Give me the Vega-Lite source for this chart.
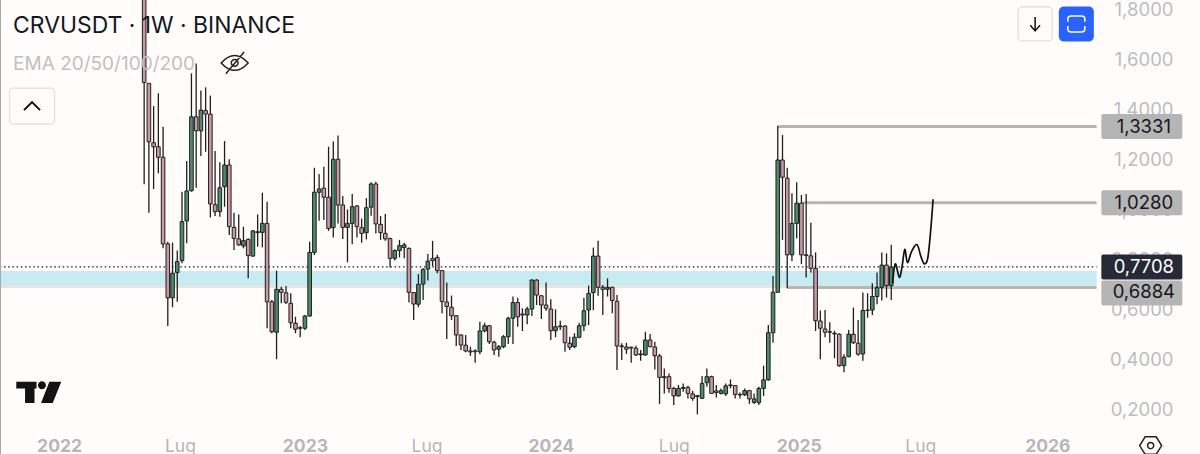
{
"$schema":"https://vega.github.io/schema/vega-lite/v6.json",
"width":1200,"height":454,"autosize":"none","padding":0,"background":"#fffcfb",
"config":{"view":{"stroke":null},"text":{"font":"Inter"}},
"datasets":{
"candles":[
{"date":"2022-05-09","open":2.2,"high":2.3,"low":1.102,"close":1.509},
{"date":"2022-05-16","open":1.506,"high":1.506,"low":0.988,"close":1.272},
{"date":"2022-05-23","open":1.268,"high":1.415,"low":1.083,"close":1.252},
{"date":"2022-05-30","open":1.252,"high":1.466,"low":1.146,"close":1.21},
{"date":"2022-06-06","open":1.21,"high":1.332,"low":0.845,"close":0.863},
{"date":"2022-06-13","open":0.863,"high":0.872,"low":0.534,"close":0.647},
{"date":"2022-06-20","open":0.647,"high":0.868,"low":0.609,"close":0.745},
{"date":"2022-06-27","open":0.748,"high":0.836,"low":0.631,"close":0.792},
{"date":"2022-07-04","open":0.796,"high":1.072,"low":0.785,"close":0.952},
{"date":"2022-07-11","open":0.955,"high":1.195,"low":0.865,"close":1.075},
{"date":"2022-07-18","open":1.076,"high":1.546,"low":1.072,"close":1.372},
{"date":"2022-07-25","open":1.372,"high":1.586,"low":1.088,"close":1.316},
{"date":"2022-08-01","open":1.316,"high":1.477,"low":1.215,"close":1.399},
{"date":"2022-08-08","open":1.397,"high":1.49,"low":1.232,"close":1.383},
{"date":"2022-08-15","open":1.383,"high":1.457,"low":0.969,"close":1.023},
{"date":"2022-08-22","open":1.02,"high":1.235,"low":0.975,"close":0.992},
{"date":"2022-08-29","open":0.992,"high":1.19,"low":0.972,"close":1.088},
{"date":"2022-09-05","open":1.092,"high":1.275,"low":1.012,"close":1.179},
{"date":"2022-09-12","open":1.179,"high":1.202,"low":0.899,"close":0.932},
{"date":"2022-09-19","open":0.929,"high":0.988,"low":0.838,"close":0.885},
{"date":"2022-09-26","open":0.883,"high":0.981,"low":0.855,"close":0.859},
{"date":"2022-10-03","open":0.855,"high":0.932,"low":0.845,"close":0.876},
{"date":"2022-10-10","open":0.881,"high":0.885,"low":0.725,"close":0.816},
{"date":"2022-10-17","open":0.814,"high":0.919,"low":0.812,"close":0.915},
{"date":"2022-10-24","open":0.912,"high":0.981,"low":0.852,"close":0.908},
{"date":"2022-10-31","open":0.909,"high":1.068,"low":0.849,"close":0.945},
{"date":"2022-11-07","open":0.945,"high":1.032,"low":0.525,"close":0.631},
{"date":"2022-11-14","open":0.631,"high":0.638,"low":0.505,"close":0.511},
{"date":"2022-11-21","open":0.509,"high":0.756,"low":0.401,"close":0.681},
{"date":"2022-11-28","open":0.681,"high":0.691,"low":0.625,"close":0.669},
{"date":"2022-12-05","open":0.667,"high":0.694,"low":0.622,"close":0.629},
{"date":"2022-12-12","open":0.625,"high":0.665,"low":0.525,"close":0.547},
{"date":"2022-12-19","open":0.545,"high":0.571,"low":0.505,"close":0.521},
{"date":"2022-12-26","open":0.527,"high":0.534,"low":0.489,"close":0.525},
{"date":"2023-01-02","open":0.525,"high":0.578,"low":0.518,"close":0.574},
{"date":"2023-01-09","open":0.574,"high":0.872,"low":0.571,"close":0.829},
{"date":"2023-01-16","open":0.829,"high":1.168,"low":0.818,"close":1.07},
{"date":"2023-01-23","open":1.07,"high":1.143,"low":0.956,"close":1.083},
{"date":"2023-01-30","open":1.086,"high":1.172,"low":0.959,"close":1.05},
{"date":"2023-02-06","open":1.05,"high":1.252,"low":0.915,"close":0.925},
{"date":"2023-02-13","open":0.928,"high":1.273,"low":0.889,"close":1.202},
{"date":"2023-02-20","open":1.202,"high":1.297,"low":0.945,"close":1.019},
{"date":"2023-02-27","open":1.019,"high":1.055,"low":0.883,"close":0.929},
{"date":"2023-03-06","open":0.929,"high":1.001,"low":0.789,"close":0.945},
{"date":"2023-03-13","open":0.945,"high":1.063,"low":0.861,"close":1.012},
{"date":"2023-03-20","open":1.015,"high":1.019,"low":0.889,"close":0.932},
{"date":"2023-03-27","open":0.928,"high":0.965,"low":0.868,"close":0.905},
{"date":"2023-04-03","open":0.908,"high":1.046,"low":0.881,"close":1.008},
{"date":"2023-04-10","open":1.01,"high":1.11,"low":0.976,"close":1.103},
{"date":"2023-04-17","open":1.103,"high":1.112,"low":0.905,"close":0.943},
{"date":"2023-04-24","open":0.941,"high":0.975,"low":0.879,"close":0.908},
{"date":"2023-05-01","open":0.905,"high":0.983,"low":0.876,"close":0.883},
{"date":"2023-05-08","open":0.884,"high":0.889,"low":0.768,"close":0.805},
{"date":"2023-05-15","open":0.805,"high":0.841,"low":0.796,"close":0.836},
{"date":"2023-05-22","open":0.836,"high":0.879,"low":0.809,"close":0.856},
{"date":"2023-05-29","open":0.848,"high":0.868,"low":0.805,"close":0.859},
{"date":"2023-06-05","open":0.845,"high":0.848,"low":0.628,"close":0.669},
{"date":"2023-06-12","open":0.668,"high":0.67,"low":0.558,"close":0.622},
{"date":"2023-06-19","open":0.621,"high":0.742,"low":0.609,"close":0.701},
{"date":"2023-06-26","open":0.702,"high":0.765,"low":0.638,"close":0.761},
{"date":"2023-07-03","open":0.762,"high":0.822,"low":0.716,"close":0.794},
{"date":"2023-07-10","open":0.804,"high":0.875,"low":0.774,"close":0.796},
{"date":"2023-07-17","open":0.808,"high":0.819,"low":0.745,"close":0.756},
{"date":"2023-07-24","open":0.756,"high":0.758,"low":0.585,"close":0.632},
{"date":"2023-07-31","open":0.63,"high":0.708,"low":0.482,"close":0.612},
{"date":"2023-08-07","open":0.609,"high":0.656,"low":0.558,"close":0.575},
{"date":"2023-08-14","open":0.575,"high":0.578,"low":0.454,"close":0.498},
{"date":"2023-08-21","open":0.498,"high":0.501,"low":0.438,"close":0.458},
{"date":"2023-08-28","open":0.457,"high":0.498,"low":0.429,"close":0.434},
{"date":"2023-09-04","open":0.434,"high":0.451,"low":0.414,"close":0.43},
{"date":"2023-09-11","open":0.434,"high":0.441,"low":0.387,"close":0.431},
{"date":"2023-09-18","open":0.431,"high":0.551,"low":0.421,"close":0.514},
{"date":"2023-09-25","open":0.514,"high":0.547,"low":0.509,"close":0.535},
{"date":"2023-10-02","open":0.535,"high":0.538,"low":0.462,"close":0.471},
{"date":"2023-10-09","open":0.469,"high":0.475,"low":0.418,"close":0.438},
{"date":"2023-10-16","open":0.441,"high":0.458,"low":0.411,"close":0.451},
{"date":"2023-10-23","open":0.451,"high":0.498,"low":0.445,"close":0.491},
{"date":"2023-10-30","open":0.491,"high":0.571,"low":0.462,"close":0.565},
{"date":"2023-11-06","open":0.565,"high":0.652,"low":0.462,"close":0.628},
{"date":"2023-11-13","open":0.628,"high":0.647,"low":0.531,"close":0.571},
{"date":"2023-11-20","open":0.582,"high":0.605,"low":0.514,"close":0.578},
{"date":"2023-11-27","open":0.578,"high":0.611,"low":0.541,"close":0.602},
{"date":"2023-12-04","open":0.602,"high":0.721,"low":0.574,"close":0.718},
{"date":"2023-12-11","open":0.718,"high":0.721,"low":0.618,"close":0.658},
{"date":"2023-12-18","open":0.655,"high":0.658,"low":0.562,"close":0.618},
{"date":"2023-12-25","open":0.618,"high":0.708,"low":0.595,"close":0.605},
{"date":"2024-01-01","open":0.602,"high":0.641,"low":0.478,"close":0.515},
{"date":"2024-01-08","open":0.515,"high":0.601,"low":0.489,"close":0.531},
{"date":"2024-01-15","open":0.534,"high":0.555,"low":0.518,"close":0.531},
{"date":"2024-01-22","open":0.534,"high":0.537,"low":0.431,"close":0.467},
{"date":"2024-01-29","open":0.465,"high":0.491,"low":0.438,"close":0.449},
{"date":"2024-02-05","open":0.451,"high":0.505,"low":0.445,"close":0.489},
{"date":"2024-02-12","open":0.489,"high":0.547,"low":0.485,"close":0.535},
{"date":"2024-02-19","open":0.535,"high":0.647,"low":0.514,"close":0.595},
{"date":"2024-02-26","open":0.598,"high":0.696,"low":0.538,"close":0.665},
{"date":"2024-03-04","open":0.668,"high":0.848,"low":0.598,"close":0.814},
{"date":"2024-03-11","open":0.814,"high":0.876,"low":0.655,"close":0.689},
{"date":"2024-03-18","open":0.689,"high":0.698,"low":0.578,"close":0.681},
{"date":"2024-03-25","open":0.681,"high":0.725,"low":0.652,"close":0.689},
{"date":"2024-04-01","open":0.689,"high":0.691,"low":0.585,"close":0.636},
{"date":"2024-04-08","open":0.633,"high":0.658,"low":0.358,"close":0.454},
{"date":"2024-04-15","open":0.454,"high":0.465,"low":0.398,"close":0.451},
{"date":"2024-04-22","open":0.45,"high":0.467,"low":0.422,"close":0.441},
{"date":"2024-04-29","open":0.449,"high":0.451,"low":0.387,"close":0.446},
{"date":"2024-05-06","open":0.445,"high":0.455,"low":0.414,"close":0.418},
{"date":"2024-05-13","open":0.419,"high":0.438,"low":0.395,"close":0.422},
{"date":"2024-05-20","open":0.418,"high":0.511,"low":0.415,"close":0.478},
{"date":"2024-05-27","open":0.478,"high":0.502,"low":0.449,"close":0.451},
{"date":"2024-06-03","open":0.45,"high":0.471,"low":0.36,"close":0.415},
{"date":"2024-06-10","open":0.414,"high":0.422,"low":0.222,"close":0.328},
{"date":"2024-06-17","open":0.331,"high":0.364,"low":0.264,"close":0.327},
{"date":"2024-06-24","open":0.331,"high":0.344,"low":0.267,"close":0.284},
{"date":"2024-07-01","open":0.284,"high":0.291,"low":0.218,"close":0.254},
{"date":"2024-07-08","open":0.254,"high":0.298,"low":0.251,"close":0.284},
{"date":"2024-07-15","open":0.288,"high":0.304,"low":0.271,"close":0.284},
{"date":"2024-07-22","open":0.288,"high":0.295,"low":0.244,"close":0.264},
{"date":"2024-07-29","open":0.262,"high":0.275,"low":0.235,"close":0.244},
{"date":"2024-08-05","open":0.255,"high":0.258,"low":0.18,"close":0.251},
{"date":"2024-08-12","open":0.244,"high":0.334,"low":0.242,"close":0.304},
{"date":"2024-08-19","open":0.307,"high":0.364,"low":0.291,"close":0.331},
{"date":"2024-08-26","open":0.331,"high":0.335,"low":0.262,"close":0.264},
{"date":"2024-09-02","open":0.274,"high":0.298,"low":0.248,"close":0.268},
{"date":"2024-09-09","open":0.264,"high":0.284,"low":0.26,"close":0.275},
{"date":"2024-09-16","open":0.262,"high":0.304,"low":0.254,"close":0.294},
{"date":"2024-09-23","open":0.298,"high":0.32,"low":0.284,"close":0.295},
{"date":"2024-09-30","open":0.295,"high":0.298,"low":0.244,"close":0.26},
{"date":"2024-10-07","open":0.26,"high":0.268,"low":0.244,"close":0.258},
{"date":"2024-10-14","open":0.258,"high":0.284,"low":0.254,"close":0.275},
{"date":"2024-10-21","open":0.275,"high":0.278,"low":0.222,"close":0.242},
{"date":"2024-10-28","open":0.228,"high":0.264,"low":0.222,"close":0.242},
{"date":"2024-11-04","open":0.227,"high":0.291,"low":0.218,"close":0.284},
{"date":"2024-11-11","open":0.284,"high":0.375,"low":0.254,"close":0.318},
{"date":"2024-11-18","open":0.318,"high":0.538,"low":0.315,"close":0.507},
{"date":"2024-11-25","open":0.507,"high":0.734,"low":0.467,"close":0.669},
{"date":"2024-12-02","open":0.669,"high":1.335,"low":0.669,"close":1.199},
{"date":"2024-12-09","open":1.199,"high":1.299,"low":0.879,"close":1.13},
{"date":"2024-12-16","open":1.126,"high":1.168,"low":0.685,"close":0.819},
{"date":"2024-12-23","open":0.819,"high":1.066,"low":0.794,"close":0.945},
{"date":"2024-12-30","open":0.945,"high":1.11,"low":0.885,"close":1.026},
{"date":"2025-01-06","open":1.026,"high":1.059,"low":0.782,"close":0.819},
{"date":"2025-01-13","open":0.819,"high":1.063,"low":0.728,"close":0.816},
{"date":"2025-01-20","open":0.815,"high":0.948,"low":0.748,"close":0.765},
{"date":"2025-01-27","open":0.765,"high":0.829,"low":0.514,"close":0.555},
{"date":"2025-02-03","open":0.554,"high":0.596,"low":0.401,"close":0.525},
{"date":"2025-02-10","open":0.522,"high":0.598,"low":0.489,"close":0.509},
{"date":"2025-02-17","open":0.511,"high":0.549,"low":0.467,"close":0.509},
{"date":"2025-02-24","open":0.505,"high":0.515,"low":0.405,"close":0.502},
{"date":"2025-03-03","open":0.501,"high":0.505,"low":0.371,"close":0.375},
{"date":"2025-03-10","open":0.375,"high":0.421,"low":0.349,"close":0.409},
{"date":"2025-03-17","open":0.411,"high":0.518,"low":0.409,"close":0.501},
{"date":"2025-03-24","open":0.501,"high":0.608,"low":0.462,"close":0.467},
{"date":"2025-03-31","open":0.465,"high":0.558,"low":0.415,"close":0.421},
{"date":"2025-04-07","open":0.422,"high":0.668,"low":0.395,"close":0.596},
{"date":"2025-04-14","open":0.596,"high":0.665,"low":0.567,"close":0.598},
{"date":"2025-04-21","open":0.598,"high":0.705,"low":0.578,"close":0.652},
{"date":"2025-04-28","open":0.652,"high":0.748,"low":0.621,"close":0.688},
{"date":"2025-05-05","open":0.689,"high":0.828,"low":0.636,"close":0.778},
{"date":"2025-05-12","open":0.778,"high":0.825,"low":0.648,"close":0.696},
{"date":"2025-05-19","open":0.696,"high":0.859,"low":0.638,"close":0.7708}
],
"levels":[
{"level":1.3331,"from":"2024-12-02","to":"2026-03-19","label":"1,3331"},
{"level":1.028,"from":"2025-01-08","to":"2026-03-19","label":"1,0280"},
{"level":0.6884,"from":"2024-12-16","to":"2026-03-19","label":"0,6884"}
],
"sketch":[
{"date":"2025-05-21","price":0.705},{"date":"2025-05-25","price":0.783},{"date":"2025-05-31","price":0.729},{"date":"2025-06-04","price":0.772},{"date":"2025-06-08","price":0.841},{"date":"2025-06-12","price":0.788},{"date":"2025-06-18","price":0.832},{"date":"2025-06-26","price":0.86},{"date":"2025-07-02","price":0.812},{"date":"2025-07-07","price":0.783},{"date":"2025-07-12","price":0.805},{"date":"2025-07-16","price":0.905},{"date":"2025-07-20","price":1.042}
]
},
"layer":[
{"data":{"values":[{"a":"2021-10-01","b":"2026-03-19","lo":0.686,"hi":0.698}]},"mark":{"type":"rect","color":"#e7e4e8","clip":true},
 "encoding":{
  "x":{"field":"a","type":"temporal","title":null,
   "scale":{"padding":0,"domain":[{"year":2021,"month":10,"date":7,"hours":14},{"year":2026,"month":8,"date":19,"hours":2}]},
   "axis":{"orient":"bottom","offset":-8,"grid":false,"domain":false,"ticks":false,"labelPadding":0,"labelBaseline":"middle","labelFont":"Inter","labelFontSize":17.5,"labelColor":"#b6b6bc","labelOverlap":false,"labelBound":false,"labelFlush":false,
    "labelFontWeight":{"condition":{"test":"month(datum.value)==0","value":"bold"},"value":"normal"},
    "labelExpr":"month(datum.value)==0 ? year(datum.value)+'' : 'Lug'",
    "values":[{"year":2022,"month":1,"date":3},{"year":2022,"month":7,"date":1},{"year":2023,"month":1,"date":2},{"year":2023,"month":7,"date":1},{"year":2024,"month":1,"date":1},{"year":2024,"month":7,"date":1},{"year":2025,"month":1,"date":2},{"year":2025,"month":7,"date":1},{"year":2026,"month":1,"date":5}]}},
  "x2":{"field":"b"},
  "y":{"field":"lo","type":"quantitative","title":null,
   "scale":{"domain":[0.0212,1.84],"nice":false,"zero":false},
   "axis":{"orient":"right","offset":-27,"grid":false,"domain":false,"ticks":false,"labelPadding":0,"labelAlign":"right","labelBaseline":"middle","labelFont":"Inter","labelFontSize":18.5,"labelColor":"#bcbcc0","labelOverlap":false,"labelBound":false,"labelFlush":false,
    "values":[0.2,0.4,0.6,0.8,1.0,1.2,1.4,1.6,1.8],
    "labelExpr":"replace(format(datum.value,'.4f'),'.',',')"}},
  "y2":{"field":"hi"}}},
{"data":{"values":[{"a":"2021-10-01","b":"2026-03-19","lo":0.698,"hi":0.754}]},"mark":{"type":"rect","color":"#c6ecf2","clip":true},
 "encoding":{"x":{"field":"a","type":"temporal","title":null},"x2":{"field":"b"},"y":{"field":"lo","type":"quantitative","title":null},"y2":{"field":"hi"}}},
{"data":{"name":"levels"},"mark":{"type":"rule","color":"#b6b6b6","strokeWidth":3},
 "encoding":{"x":{"field":"from","type":"temporal","title":null},"x2":{"field":"to"},"y":{"field":"level","type":"quantitative","title":null}}},
{"data":{"values":[{"a":"2021-10-01","b":"2026-03-19","last":0.7708}]},"mark":{"type":"rule","color":"#1c1c1c","strokeWidth":1.2,"strokeDash":[1.5,2.7],"clip":true},
 "encoding":{"x":{"field":"a","type":"temporal","title":null},"x2":{"field":"b"},"y":{"field":"last","type":"quantitative","title":null}}},
{"data":{"name":"candles"},"mark":{"type":"rule","color":"#1e1e1e","strokeWidth":1.3,"clip":true},
 "encoding":{"x":{"field":"date","type":"temporal","title":null},"y":{"field":"low","type":"quantitative","title":null},"y2":{"field":"high"}}},
{"data":{"name":"candles"},"mark":{"type":"bar","width":3.6,"stroke":"#1e1e1e","strokeWidth":1,"clip":true},
 "encoding":{"x":{"field":"date","type":"temporal","title":null},"y":{"field":"open","type":"quantitative","title":null},"y2":{"field":"close"},
  "color":{"condition":{"test":"datum.close>=datum.open","value":"#4f8a6a"},"value":"#c898a8"}}},
{"data":{"name":"sketch"},"mark":{"type":"line","color":"#111111","strokeWidth":1.7,"interpolate":"cardinal"},
 "encoding":{"x":{"field":"date","type":"temporal","title":null},"y":{"field":"price","type":"quantitative","title":null}}},
{"data":{"name":"levels"},"transform":[{"filter":"datum.level>1"}],"mark":{"type":"rect","width":81,"height":25,"color":"#b5b5b5","cornerRadius":2},
 "encoding":{"x":{"datum":{"year":2026,"month":5,"date":25},"type":"temporal","title":null},"y":{"field":"level","type":"quantitative","title":null}}},
{"data":{"name":"levels"},"transform":[{"filter":"datum.level<1"}],"mark":{"type":"rect","width":81,"height":25,"color":"#b5b5b5","cornerRadius":2,"yOffset":5.5},
 "encoding":{"x":{"datum":{"year":2026,"month":5,"date":25},"type":"temporal","title":null},"y":{"field":"level","type":"quantitative","title":null}}},
{"data":{"values":[{"last":0.7708,"label":"0,7708"}]},"mark":{"type":"rect","width":81,"height":25,"color":"#262a36","cornerRadius":2},
 "encoding":{"x":{"datum":{"year":2026,"month":5,"date":25},"type":"temporal","title":null},"y":{"field":"last","type":"quantitative","title":null}}},
{"data":{"name":"levels"},"transform":[{"filter":"datum.level>1"}],"mark":{"type":"text","fontSize":18.5,"color":"#131722","dx":2,"baseline":"middle"},
 "encoding":{"x":{"datum":{"year":2026,"month":5,"date":25},"type":"temporal","title":null},"y":{"field":"level","type":"quantitative","title":null},"text":{"field":"label"}}},
{"data":{"name":"levels"},"transform":[{"filter":"datum.level<1"}],"mark":{"type":"text","fontSize":18.5,"color":"#131722","dx":2,"dy":5,"baseline":"middle"},
 "encoding":{"x":{"datum":{"year":2026,"month":5,"date":25},"type":"temporal","title":null},"y":{"field":"level","type":"quantitative","title":null},"text":{"field":"label"}}},
{"data":{"values":[{"last":0.7708,"label":"0,7708"}]},"mark":{"type":"text","fontSize":18.5,"color":"#ffffff","dx":2,"baseline":"middle"},
 "encoding":{"x":{"datum":{"year":2026,"month":5,"date":25},"type":"temporal","title":null},"y":{"field":"last","type":"quantitative","title":null},"text":{"field":"label"}}},
{"data":{"values":[{"d":"2021-10-27","p":1.736,"t":"CRVUSDT · 1W · BINANCE"}]},"mark":{"type":"text","fontSize":22.9,"color":"#131722","align":"left","baseline":"middle"},
 "encoding":{"x":{"field":"d","type":"temporal","title":null},"y":{"field":"p","type":"quantitative","title":null},"text":{"field":"t"}}},
{"data":{"values":[{"d":"2021-10-27","p":1.584,"t":"EMA 20/50/100/200"}]},"mark":{"type":"text","fontSize":19,"color":"#c0c0c4","align":"left","baseline":"middle"},
 "encoding":{"x":{"field":"d","type":"temporal","title":null},"y":{"field":"p","type":"quantitative","title":null},"text":{"field":"t"}}},
{"data":{"values":[{"d":"2021-11-24","p":1.415}]},"mark":{"type":"rect","width":45,"height":36,"fill":"#fffcfb","stroke":"#dedede","strokeWidth":1.2,"cornerRadius":4},
 "encoding":{"x":{"field":"d","type":"temporal","title":null},"y":{"field":"p","type":"quantitative","title":null}}},
{"data":{"values":[{"d":"2021-11-24","p":1.415}]},"mark":{"type":"point","shape":"M-1,0.5L0,-0.5L1,0.5","size":256,"filled":false,"stroke":"#111111","strokeWidth":2,"opacity":1},
 "encoding":{"x":{"field":"d","type":"temporal","title":null},"y":{"field":"p","type":"quantitative","title":null}}},
{"data":{"values":[{"d":"2025-12-18","p":1.744}]},"mark":{"type":"rect","width":34,"height":34,"fill":"#fffcfb","stroke":"#dedede","strokeWidth":1.2,"cornerRadius":4},
 "encoding":{"x":{"field":"d","type":"temporal","title":null},"y":{"field":"p","type":"quantitative","title":null}}},
{"data":{"values":[{"d":"2025-12-18","p":1.744}]},"mark":{"type":"point","shape":"M0,-1L0,1M-0.7,0.2L0,1L0.7,0.2","size":196,"filled":false,"stroke":"#111111","strokeWidth":1.5,"opacity":1},
 "encoding":{"x":{"field":"d","type":"temporal","title":null},"y":{"field":"p","type":"quantitative","title":null}}},
{"data":{"values":[{"d":"2026-02-17","p":1.744}]},"mark":{"type":"rect","width":35,"height":35,"fill":"#2962ff","cornerRadius":5},
 "encoding":{"x":{"field":"d","type":"temporal","title":null},"y":{"field":"p","type":"quantitative","title":null}}},
{"data":{"values":[{"d":"2026-02-17","p":1.744}]},"mark":{"type":"point","shape":"M-1,-0.25L-1,-0.6Q-1,-0.95 -0.6,-0.95L0.6,-0.95Q1,-0.95 1,-0.6L1,-0.25M-1,0.25L-1,0.6Q-1,0.95 -0.6,0.95L0.6,0.95Q1,0.95 1,0.6L1,0.25","size":289,"filled":false,"stroke":"#ffffff","strokeWidth":1.5,"opacity":1},
 "encoding":{"x":{"field":"d","type":"temporal","title":null},"y":{"field":"p","type":"quantitative","title":null}}},
{"data":{"values":[{"d":"2022-09-20","p":1.588}]},"mark":{"type":"point","shape":"M-1,0Q0,-1.1 1,0Q0,1.1 -1,0ZM-0.25,0A0.25,0.25 0 1,1 0.25,0A0.25,0.25 0 1,1 -0.25,0ZM-0.65,0.8L0.7,-0.8","size":729,"filled":false,"stroke":"#222222","strokeWidth":1.5,"opacity":1},
 "encoding":{"x":{"field":"d","type":"temporal","title":null},"y":{"field":"p","type":"quantitative","title":null}}},
{"data":{"values":[{"d":"2021-12-04","p":0.268}]},"mark":{"type":"point","shape":"M-1,-0.47L-0.1,-0.47L-0.1,-0.17L-0.19,-0.17L-0.19,0.47L-0.61,0.47L-0.61,-0.17L-1,-0.17ZM-0.04,-0.32A0.18,0.18 0 1,1 0.32,-0.32A0.18,0.18 0 1,1 -0.04,-0.32ZM0.47,-0.47L1,-0.47L0.62,0.47L0.1,0.47Z","size":2025,"filled":true,"fill":"#131313","opacity":1},
 "encoding":{"x":{"field":"d","type":"temporal","title":null},"y":{"field":"p","type":"quantitative","title":null}}},
{"data":{"values":[{"d":"2026-06-07","p":0.055}]},"mark":{"type":"point","shape":"M-1,0L-0.5,-0.8L0.5,-0.8L1,0L0.5,0.8L-0.5,0.8ZM-0.28,0A0.28,0.28 0 1,1 0.28,0A0.28,0.28 0 1,1 -0.28,0Z","size":484,"filled":false,"stroke":"#222222","strokeWidth":1.5,"opacity":1},
 "encoding":{"x":{"field":"d","type":"temporal","title":null},"y":{"field":"p","type":"quantitative","title":null}}},
{"data":{"values":[{"d":"2021-10-07T14:30:00Z"}]},"mark":{"type":"rule","color":"#a8a8a8","strokeWidth":2},
 "encoding":{"x":{"field":"d","type":"temporal","title":null}}}
]
}
